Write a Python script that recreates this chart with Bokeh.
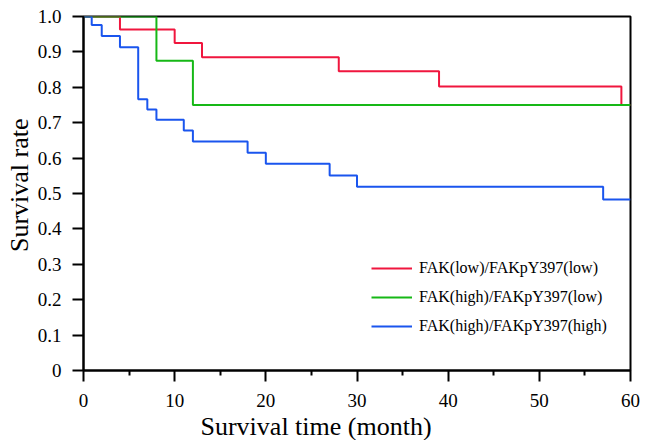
from bokeh.plotting import figure
from bokeh.models import FixedTicker, CustomJSTickFormatter, Title, Legend, LegendItem, Range1d
from bokeh.embed import file_html
from bokeh.resources import INLINE

# Kaplan-Meier step data (month, survival rate)
months_low_low = [0, 4, 10, 13, 28, 39, 59, 60]
surv_low_low = [1.0, 0.963, 0.925, 0.885, 0.845, 0.802, 0.75, 0.75]

months_high_low = [0, 8, 12, 60]
surv_high_low = [1.0, 0.875, 0.75, 0.75]

months_high_high = [0, 0.9, 2, 4, 6, 7, 8, 11, 12, 18, 20, 27, 30, 57, 60]
surv_high_high = [1.0, 0.976, 0.945, 0.913, 0.766, 0.737, 0.708, 0.678, 0.647,
                  0.615, 0.584, 0.551, 0.519, 0.483, 0.483]

series_labels = ["FAK(low)/FAKpY397(low)", "FAK(high)/FAKpY397(low)", "FAK(high)/FAKpY397(high)"]
series_colors = ["#f0163e", "#16b816", "#1a55ee"]

x_ticks = [0, 10, 20, 30, 40, 50, 60]
x_minor = [5, 15, 25, 35, 45, 55]
y_ticks = [0.0, 0.1, 0.2, 0.3, 0.4, 0.5, 0.6, 0.7, 0.8, 0.9, 1.0]

FONT = "Liberation Serif"

p = figure(width=640, height=440, output_backend="svg", toolbar_location=None,
           x_range=Range1d(0, 60), y_range=Range1d(0, 1.0),
           min_border_left=83, min_border_right=10, min_border_top=16, min_border_bottom=68)
p.grid.visible = False
p.background_fill_color = "white"
p.border_fill_color = "white"
p.outline_line_color = "black"
p.outline_line_width = 2

for ax in (p.xaxis[0], p.yaxis[0]):
    ax.axis_line_width = 2
    ax.axis_line_color = "black"
    ax.major_tick_line_width = 2
    ax.minor_tick_line_width = 2
    ax.major_tick_out = 11
    ax.major_tick_in = 0
    ax.major_label_text_font = FONT
    ax.major_label_text_font_size = "19px"
    ax.major_label_text_color = "black"

p.xaxis.ticker = FixedTicker(ticks=x_ticks, minor_ticks=x_minor)
p.xaxis.minor_tick_out = 5
p.xaxis.minor_tick_in = 0
p.xaxis.major_label_standoff = 12

p.yaxis.ticker = FixedTicker(ticks=y_ticks, minor_ticks=[])
p.yaxis.minor_tick_line_color = None
p.yaxis.major_label_standoff = 11
p.yaxis.formatter = CustomJSTickFormatter(code="return Math.abs(tick) < 1e-9 ? '0' : tick.toFixed(1);")

data = [(months_low_low, surv_low_low), (months_high_low, surv_high_low), (months_high_high, surv_high_high)]
renderers = []
for (mx, sy), col in zip(data, series_colors):
    r = p.step(mx, sy, mode="after", line_color=col, line_width=2)
    renderers.append(r)

legend = Legend(items=[LegendItem(label=l, renderers=[r]) for l, r in zip(series_labels, renderers)],
                location=(288, 34), padding=0, margin=0, spacing=9,
                glyph_width=41, glyph_height=20, label_height=20, label_standoff=7,
                label_text_font=FONT, label_text_font_size="16px", label_text_color="black",
                border_line_color=None, background_fill_alpha=0)
p.add_layout(legend)

xt = Title(text="Survival time (month)", align="left", offset=117, text_font=FONT,
           text_font_size="26px", text_font_style="normal", text_color="black", standoff=0)
p.add_layout(xt, "below")
yt = Title(text="Survival rate", align="right", offset=102, text_font=FONT,
           text_font_size="26px", text_font_style="normal", text_color="black", standoff=2)
p.add_layout(yt, "left")

open("out.html", "w").write(file_html(p, INLINE))
